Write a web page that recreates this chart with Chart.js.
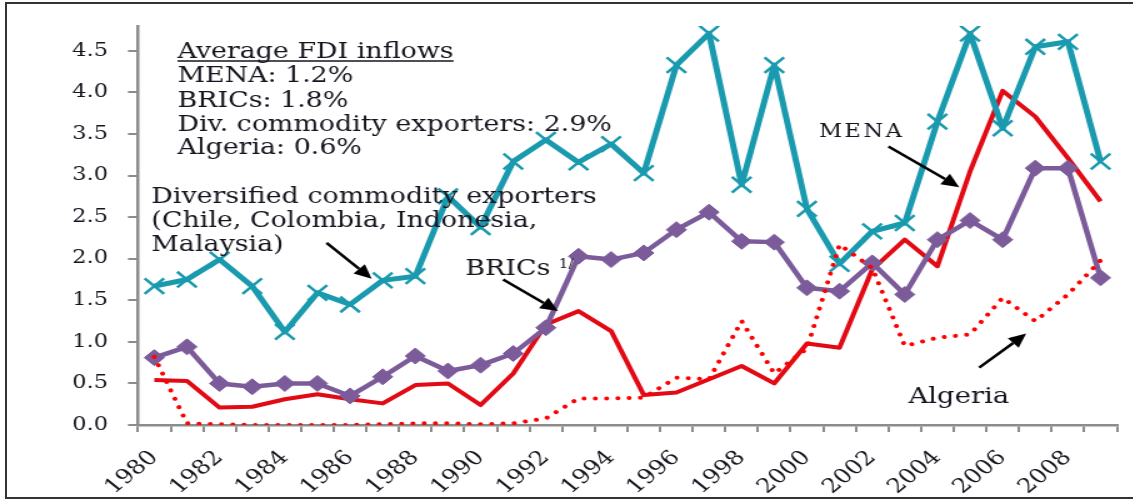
<!DOCTYPE html>
<html>
<head>
<meta charset="utf-8">
<script src="https://cdn.jsdelivr.net/npm/chart.js@4.4.1/dist/chart.umd.min.js"></script>
<style>
  html, body { margin: 0; padding: 0; background: #fff; overflow: hidden; }
  /* the source picture is stretched sideways, so the canvas is too */
  #wrap { position: absolute; left: 0; top: 0; width: 907px; height: 502px; transform: scaleX(1.25); transform-origin: 0 0; }
  #frame { position: absolute; left: 5px; top: 2px; width: 1140px; height: 497px; border: 2px solid #333; box-sizing: border-box; }
</style>
</head>
<body>
<div id="wrap"><canvas id="fdi" width="907" height="502"></canvas></div>
<div id="frame"></div>
<script>
// ---------- Data (FDI inflows, % of GDP) ----------
const years = ["1980","1981","1982","1983","1984","1985","1986","1987","1988","1989",
  "1990","1991","1992","1993","1994","1995","1996","1997","1998","1999",
  "2000","2001","2002","2003","2004","2005","2006","2007","2008","2009"];

const divCommodity = [1.67, 1.75, 1.99, 1.67, 1.12, 1.59, 1.45, 1.74, 1.79, 2.75,
  2.38, 3.17, 3.43, 3.16, 3.38, 3.03, 4.33, 4.71, 2.89, 4.33,
  2.60, 1.94, 2.33, 2.43, 3.65, 4.71, 3.57, 4.55, 4.61, 3.17];

const brics = [0.81, 0.94, 0.50, 0.46, 0.50, 0.50, 0.35, 0.58, 0.83, 0.65,
  0.72, 0.86, 1.17, 2.03, 1.99, 2.07, 2.35, 2.56, 2.21, 2.20,
  1.65, 1.61, 1.95, 1.57, 2.23, 2.46, 2.23, 3.09, 3.09, 1.77];

const mena = [0.54, 0.53, 0.21, 0.22, 0.31, 0.37, 0.31, 0.26, 0.48, 0.50,
  0.24, 0.62, 1.21, 1.37, 1.13, 0.36, 0.39, 0.55, 0.71, 0.50,
  0.98, 0.93, 1.87, 2.23, 1.91, 3.05, 4.02, 3.71, 3.21, 2.69];

const algeria = [0.82, 0.02, 0.01, 0.00, 0.00, 0.00, 0.00, 0.01, 0.02, 0.02,
  0.01, 0.02, 0.08, 0.32, 0.32, 0.33, 0.57, 0.55, 1.25, 0.62,
  0.92, 2.17, 1.89, 0.95, 1.05, 1.09, 1.53, 1.25, 1.57, 1.98];

// ---------- Annotations (x = category index, y = value) ----------
const notes = [
  { text: "Average FDI inflows", x: 0.71, y: 4.41, size: 21.5, underline: true },
  { text: "MENA: 1.2%", x: 0.71, y: 4.13, size: 21.5 },
  { text: "BRICs: 1.8%", x: 0.71, y: 3.83, size: 21.5 },
  { text: "Div. commodity exporters: 2.9%", x: 0.71, y: 3.54, size: 21.5 },
  { text: "Algeria: 0.6%", x: 0.71, y: 3.26, size: 21.5 },
  { text: "Diversified commodity exporters", x: -0.09, y: 2.67, size: 21.5 },
  { text: "(Chile, Colombia, Indonesia,", x: -0.09, y: 2.38, size: 21.5 },
  { text: "Malaysia)", x: -0.09, y: 2.09, size: 21.5 },
  { text: "BRICs ", x: 9.53, y: 1.80, size: 21.5, sup: "1/" },
  { text: "MENA", x: 20.37, y: 3.47, size: 18, spacing: "2px" },
  { text: "Algeria", x: 23.11, y: 0.26, size: 22 },
];

const arrows = [
  { from: [5.28, 2.19], to: [6.66, 1.76] },
  { from: [10.69, 1.75], to: [12.37, 1.37] },
  { from: [22.5, 3.35], to: [24.67, 2.86] },
  { from: [25.28, 0.69], to: [26.72, 1.10] },
];

const TEXT = "#15151f";
const AXIS = "#8c8c8c";
const SERIF = "'DejaVu Serif', 'Liberation Serif', serif";

function drawArrow(ctx, x1, y1, x2, y2) {
  const a = Math.atan2(y2 - y1, x2 - x1);
  const head = 14, half = 6.5;
  const bx = x2 - head * Math.cos(a), by = y2 - head * Math.sin(a);
  ctx.beginPath();
  ctx.moveTo(x1, y1);
  ctx.lineTo(bx, by);
  ctx.lineWidth = 2.5;
  ctx.strokeStyle = "#000";
  ctx.stroke();
  ctx.beginPath();
  ctx.moveTo(x2, y2);
  ctx.lineTo(bx + half * Math.sin(a), by - half * Math.cos(a));
  ctx.lineTo(bx - half * Math.sin(a), by + half * Math.cos(a));
  ctx.closePath();
  ctx.fillStyle = "#000";
  ctx.fill();
}

const notesPlugin = {
  id: "notes",
  afterDatasetsDraw(chart) {
    const ctx = chart.ctx;
    const sx = chart.scales.x, sy = chart.scales.y;
    ctx.save();
    ctx.textBaseline = "alphabetic";
    ctx.textAlign = "left";
    notes.forEach(n => {
      const px = sx.getPixelForValue(n.x);
      const py = sy.getPixelForValue(n.y);
      ctx.font = n.size + "px " + SERIF;
      if ("letterSpacing" in ctx) ctx.letterSpacing = n.spacing || "0px";
      ctx.fillStyle = TEXT;
      ctx.fillText(n.text, px, py);
      const w = ctx.measureText(n.text).width;
      if (n.underline) {
        ctx.beginPath();
        ctx.moveTo(px, py + 2.5);
        ctx.lineTo(px + w, py + 2.5);
        ctx.lineWidth = 1.5;
        ctx.strokeStyle = TEXT;
        ctx.stroke();
      }
      if (n.sup) {
        ctx.font = "12px " + SERIF;
        ctx.fillText(n.sup, px + w, py - 7);
      }
    });
    if ("letterSpacing" in ctx) ctx.letterSpacing = "0px";
    arrows.forEach(a => {
      drawArrow(ctx,
        sx.getPixelForValue(a.from[0]), sy.getPixelForValue(a.from[1]),
        sx.getPixelForValue(a.to[0]), sy.getPixelForValue(a.to[1]));
    });
    ctx.restore();
  }
};

const ctx = document.getElementById("fdi").getContext("2d");
new Chart(ctx, {
  type: "line",
  data: {
    labels: years,
    datasets: [
      {
        label: "Algeria",
        data: algeria,
        borderColor: "#ff0000",
        borderWidth: 4,
        borderDash: [0.01, 9],
        borderCapStyle: "round",
        pointRadius: 0,
        tension: 0,
      },
      {
        label: "Diversified commodity exporters",
        data: divCommodity,
        borderColor: "#1a9aae",
        borderWidth: 5,
        borderJoinStyle: "round",
        pointStyle: "crossRot",
        pointRadius: 11,
        pointBorderWidth: 2.5,
        pointBorderColor: "#1a9aae",
        tension: 0,
      },
      {
        label: "BRICs",
        data: brics,
        borderColor: "#7b5b99",
        borderWidth: 4.5,
        borderJoinStyle: "round",
        pointStyle: "rectRot",
        pointRadius: 8,
        pointBackgroundColor: "#7b5b99",
        pointBorderColor: "#7b5b99",
        pointBorderWidth: 1,
        tension: 0,
      },
      {
        label: "MENA",
        data: mena,
        borderColor: "#e20a14",
        borderWidth: 4,
        borderJoinStyle: "round",
        pointRadius: 0,
        tension: 0,
      },
    ],
  },
  options: {
    responsive: false,
    animation: false,
    events: [],
    layout: { padding: { top: 26, right: 13, left: 0, bottom: 0 } },
    plugins: { legend: { display: false }, tooltip: { enabled: false } },
    scales: {
      x: {
        offset: true,
        grid: { offset: true, drawOnChartArea: false, tickLength: 7, color: AXIS, lineWidth: 2 },
        border: { color: AXIS, width: 2.5 },
        ticks: {
          autoSkip: false,
          maxRotation: 45,
          minRotation: 45,
          padding: 14,
          color: TEXT,
          font: { family: SERIF, size: 20 },
          callback: (v, i) => (i % 2 ? "" : years[i]),
        },
        afterFit: s => {
          s.height = 77;
          s.paddingLeft = 0;
          s.paddingRight = 0;
        },
      },
      y: {
        min: 0,
        max: 4.8,
        grid: { drawOnChartArea: false, tickLength: 8, color: AXIS, lineWidth: 2 },
        border: { color: AXIS, width: 2.5 },
        ticks: {
          stepSize: 0.5,
          includeBounds: false,
          padding: 16,
          color: TEXT,
          font: { family: SERIF, size: 18 },
          callback: v => v.toFixed(1),
        },
        afterFit: s => {
          s.width = 110.4;
          s.paddingTop = 0;
          s.paddingBottom = 0;
        },
      },
    },
  },
  plugins: [notesPlugin],
});
</script>
</body>
</html>
